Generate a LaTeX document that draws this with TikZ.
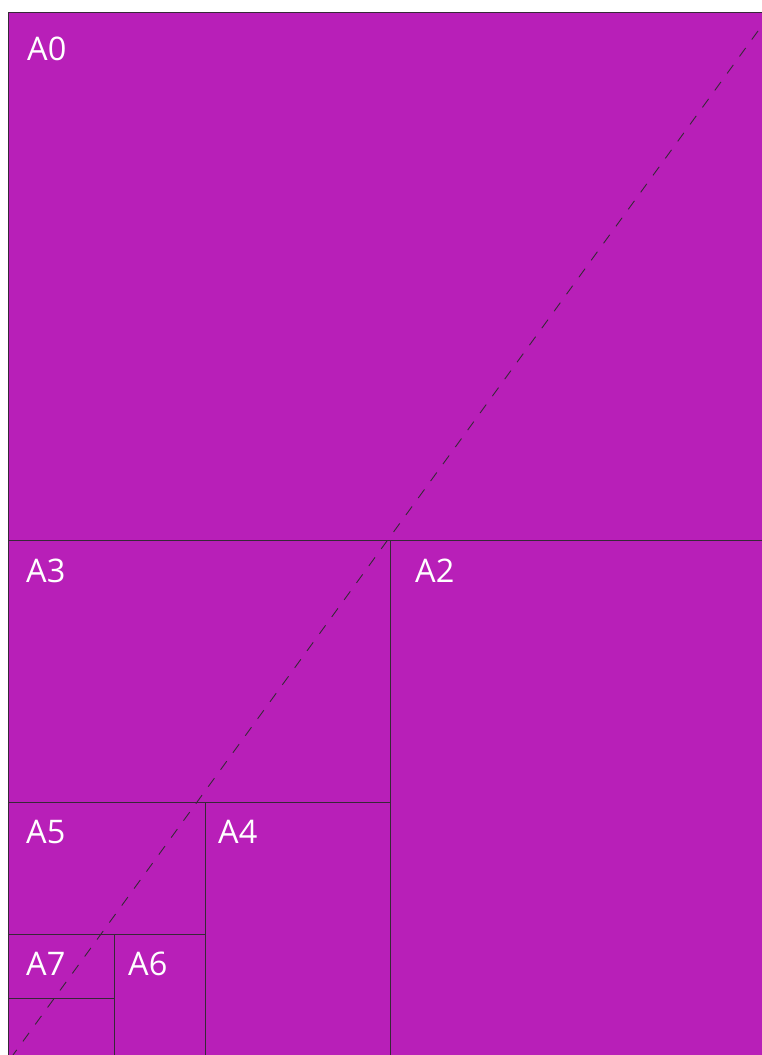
\documentclass[tikz,border=0pt]{standalone}
\usepackage{fontspec}
\setmainfont{Open Sans}
\definecolor{paper}{RGB}{184,31,184}
\definecolor{edge}{RGB}{55,40,55}
\tikzset{
  lab/.style={anchor=base west, inner sep=0pt, text=white, font=\fontsize{32.5}{32.5}\selectfont},
  cell/.style={draw=edge, line width=1pt},
  diag/.style={draw=edge, line width=0.9pt, dash pattern=on 10.5pt off 10.5pt}
}
\begin{document}
\begin{tikzpicture}[x=1pt,y=-1pt]
\useasboundingbox (0,0) rectangle (762,1055);
\fill[white] (0,0) rectangle (762,1055);
\clip (0,0) rectangle (762,1055);
\fill[paper] (8,12) rectangle (780,1070);
% outline and divisions
\draw[cell] (780,12) -- (8,12) -- (8,1070);
\draw[cell] (8,540) -- (780,540);
\draw[cell] (390,540) -- (390,1070);
\draw[cell] (8,802) -- (390,802);
\draw[cell] (205,802) -- (205,1070);
\draw[cell] (8,934) -- (205,934);
\draw[cell] (114,934) -- (114,1070);
\draw[cell] (8,998) -- (114,998);
% diagonal
\coordinate (dstart) at (758,31);
\coordinate (dend) at (13,1055);
\draw[diag] (dstart) -- (dend);
% labels
\node[lab] (a0) at (27,60) {A0};
\node[lab] (a3) at (26,582) {A3};
\node[lab] (a2) at (415,582) {A2};
\node[lab] (a5) at (26,843) {A5};
\node[lab] (a4) at (218,843) {A4};
\node[lab] (a7) at (26,975) {A7};
\node[lab] (a6) at (128,975) {A6};
\end{tikzpicture}
\end{document}
